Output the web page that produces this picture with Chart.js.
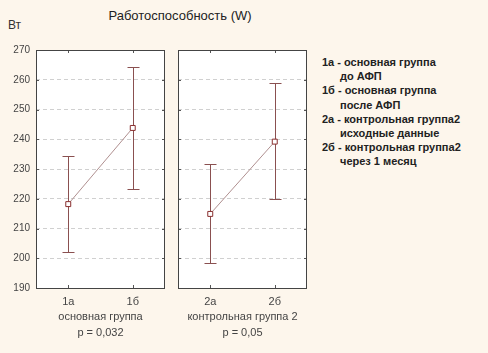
<!DOCTYPE html>
<html><head><meta charset="utf-8">
<script src="https://cdn.jsdelivr.net/npm/chart.js@4/dist/chart.umd.min.js"></script>
<style>
html,body{margin:0;padding:0;}
body{width:488px;height:353px;background:#fdf6ec;position:relative;overflow:hidden;font-family:"Liberation Sans",Arial,sans-serif;}
.cw{position:absolute;top:0;height:353px;}
#title{position:absolute;left:80px;width:200px;top:8px;text-align:center;font-size:13px;color:#222;}
#unit{position:absolute;left:8px;top:18px;font-size:12px;color:#333;}
#legend{position:absolute;left:322px;top:55px;font-size:11px;font-weight:bold;color:#222;line-height:14.2px;}
#legend .ind{padding-left:18px;}
</style></head>
<body>
<div id="title">Работоспособность (W)</div>
<div id="unit">Вт</div>
<div class="cw" style="left:0;width:170px;"><canvas id="c1" width="170" height="353"></canvas></div>
<div class="cw" style="left:170px;width:142px;"><canvas id="c2" width="142" height="353"></canvas></div>
<div id="legend">
<div>1а - основная группа</div><div class="ind">до АФП</div>
<div>1б - основная группа</div><div class="ind">после АФП</div>
<div>2а - контрольная группа2</div><div class="ind">исходные данные</div>
<div>2б - контрольная группа2</div><div class="ind">через 1 месяц</div>
</div>
<script>
const categories1 = ['1а', '1б'];
const means1 = [218.2, 243.8];
const upper1 = [234.5, 264.4];
const lower1 = [202.0, 223.3];
const groupLabel1 = ['основная группа', 'p = 0,032'];

const categories2 = ['2а', '2б'];
const means2 = [214.9, 239.2];
const upper2 = [231.7, 258.8];
const lower2 = [198.3, 219.8];
const groupLabel2 = ['контрольная группа 2', 'p = 0,05'];

const yMin = 190, yMax = 270, yStep = 10;

const errColor = '#8a5050';

const errorBars = {
  id: 'errorBars',
  beforeDatasetsDraw(chart, args, opts) {
    const {ctx} = chart;
    const xs = chart.scales.x, ys = chart.scales.y;
    opts.upper.forEach((u, i) => {
      const x = Math.round(xs.getPixelForValue(i)) + 0.5;
      const yu = Math.round(ys.getPixelForValue(u)) + 0.5;
      const yl = Math.round(ys.getPixelForValue(opts.lower[i])) + 0.5;
      ctx.save();
      ctx.strokeStyle = errColor;
      ctx.lineWidth = 1;
      ctx.setLineDash([]);
      ctx.beginPath();
      ctx.moveTo(x, yu); ctx.lineTo(x, yl);
      ctx.moveTo(x - 6, yu); ctx.lineTo(x + 6, yu);
      ctx.moveTo(x - 6, yl); ctx.lineTo(x + 6, yl);
      ctx.stroke();
      ctx.restore();
    });
  }
};

const frame = {
  id: 'frame',
  beforeDatasetsDraw(chart) {
    const {ctx, chartArea: a} = chart;
    const xs = chart.scales.x, ys = chart.scales.y;
    ctx.save();
    ctx.strokeStyle = '#555';
    ctx.lineWidth = 1;
    ctx.beginPath();
    ys.ticks.forEach(t => {
      const y = Math.round(ys.getPixelForValue(t.value)) + 0.5;
      ctx.moveTo(a.right - 3, y); ctx.lineTo(a.right, y);
      ctx.moveTo(a.left, y); ctx.lineTo(a.left + 3, y);
    });
    for (let i = 0; i < xs.ticks.length; i++) {
      const x = Math.round(xs.getPixelForValue(i)) + 0.5;
      ctx.moveTo(x, a.top); ctx.lineTo(x, a.top + 3);
      ctx.moveTo(x, a.bottom); ctx.lineTo(x, a.bottom - 3);
    }
    ctx.stroke();
    ctx.strokeStyle = '#444';
    ctx.strokeRect(Math.round(a.left) + 0.5, Math.round(a.top) + 0.5, Math.round(a.right - a.left) - 1, Math.round(a.bottom - a.top));
    ctx.restore();
  }
};

const whiteBg = {
  id: 'whiteBg',
  beforeDraw(chart) {
    const {ctx, chartArea: a} = chart;
    ctx.save();
    ctx.fillStyle = '#ffffff';
    ctx.fillRect(a.left, a.top, a.right - a.left, a.bottom - a.top);
    ctx.restore();
  }
};

function makeChart(id, cats, means, up, lo, groupLabel, showY, yWidth, rightPad) {
  return new Chart(document.getElementById(id), {
    type: 'line',
    data: {
      labels: cats,
      datasets: [{
        data: means,
        borderColor: '#b09090',
        borderWidth: 1,
        pointStyle: 'rect',
        pointRadius: 3.5,
        pointBackgroundColor: '#ffffff',
        pointBorderColor: '#8a2f2f',
        pointBorderWidth: 1,
        tension: 0
      }]
    },
    options: {
      responsive: false,
      animation: false,
      devicePixelRatio: 1,
      layout: {padding: {top: 50, right: rightPad, left: 0, bottom: 0}},
      plugins: {
        legend: {display: false},
        tooltip: {enabled: false},
        errorBars: {upper: up, lower: lo}
      },
      scales: {
        x: {
          type: 'category',
          offset: true,
          grid: {display: false, drawTicks: false},
          border: {display: false},
          ticks: {padding: 7, color: '#444', font: {family: 'Liberation Sans', size: 11}},
          title: {display: true, text: groupLabel, color: '#444', padding: {top: 0, bottom: 12},
                  font: {family: 'Liberation Sans', size: 11, lineHeight: 1.45}},
          afterFit(s) { s.height = 65; }
        },
        y: {
          min: yMin, max: yMax,
          grid: {color: '#d0d0d0', drawTicks: false, lineWidth: 1},
          border: {display: false, dash: [4, 3]},
          ticks: {display: showY, stepSize: yStep, padding: 6, color: '#444',
                  font: {family: 'Liberation Sans', size: 10}},
          afterFit(s) { s.width = yWidth; }
        }
      }
    },
    plugins: [whiteBg, frame, errorBars]
  });
}

makeChart('c1', categories1, means1, upper1, lower1, groupLabel1, true, 36, 4);
makeChart('c2', categories2, means2, upper2, lower2, groupLabel2, false, 8, 4);
</script>
</body></html>
